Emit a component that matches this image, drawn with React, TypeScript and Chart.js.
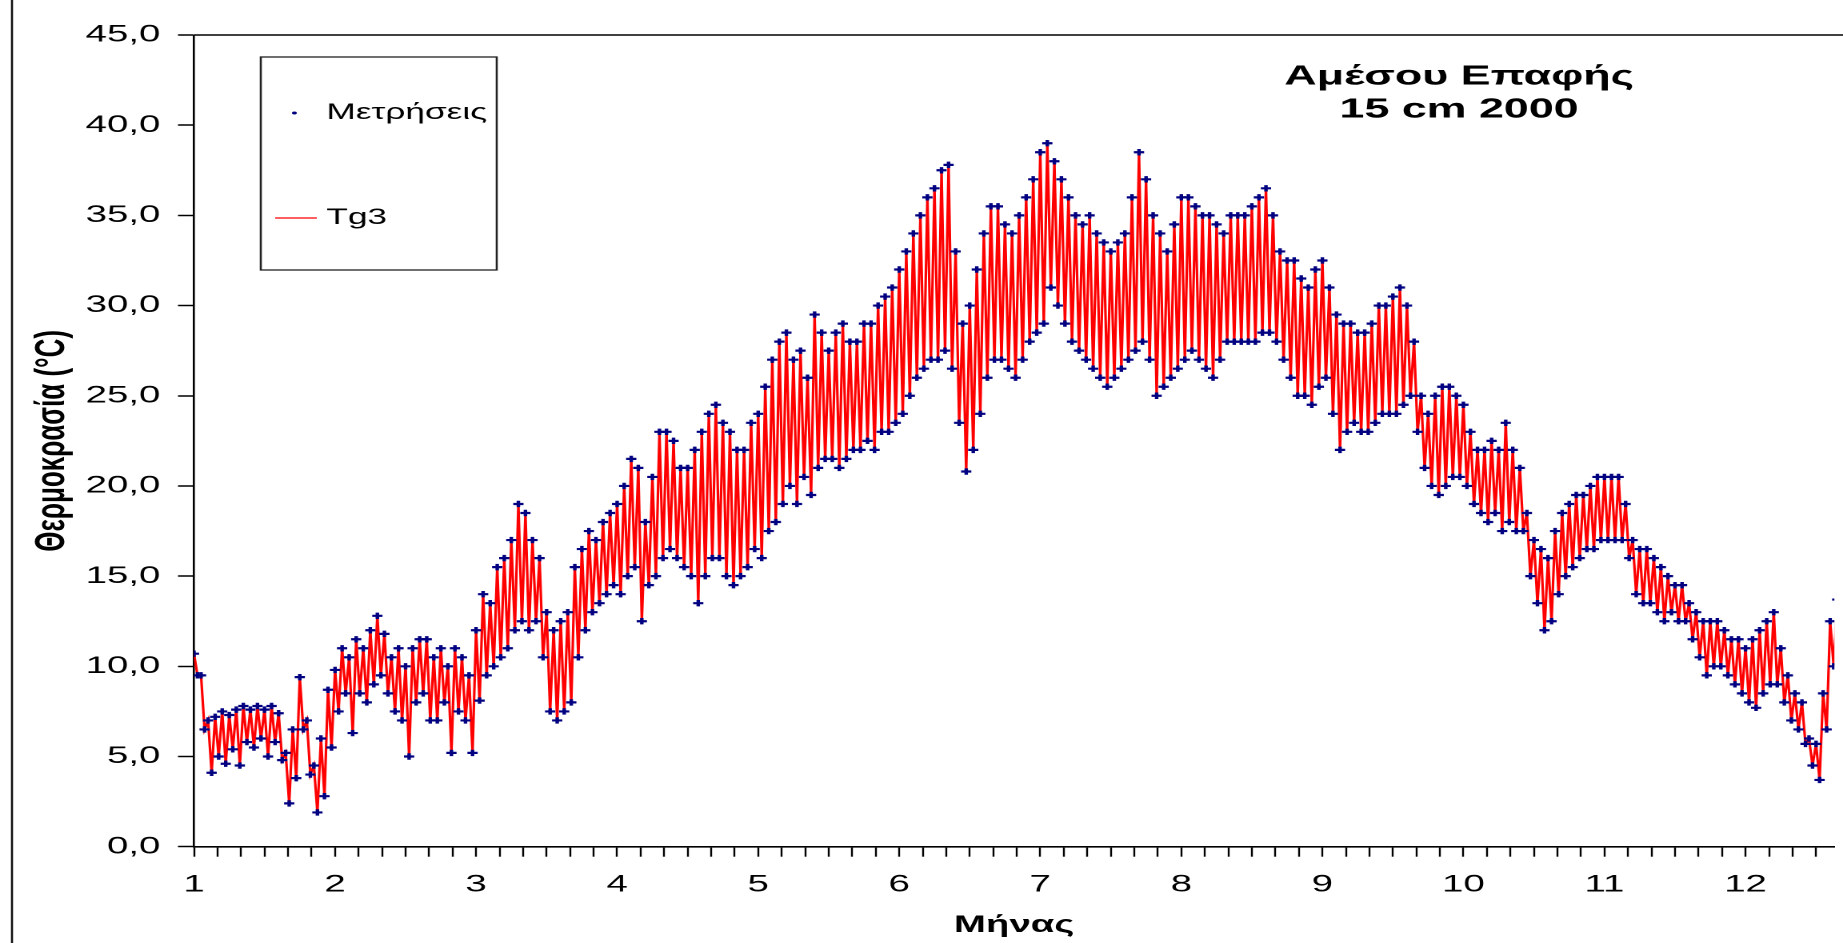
import React, { useEffect, useRef } from "react";
import { Chart, registerables } from "chart.js";

Chart.register(...registerables);

// ---------------- data ----------------
// Samples every 0.05 month starting at month 1.00: upper and lower envelope of the measurements
const SAMPLE_START = 1.0;
const SAMPLE_STEP = 0.05;

const tempMax = [
  // Jan
  10.7, 9.5, 7.0, 7.2, 7.5, 7.3, 7.6, 7.8, 7.6, 7.8, 7.6, 7.8, 7.4, 5.2, 6.5, 9.4, 7.0, 4.5, 6.0, 8.7,
  // Feb
  9.8, 11.0, 10.5, 11.5, 11.0, 12.0, 12.8, 11.8, 10.5, 11.0, 10.0, 11.0, 11.5, 11.5, 10.5, 11.0, 10.0, 11.0, 10.5, 9.5,
  // Mar
  12.0, 14.0, 13.5, 15.5, 16.0, 17.0, 19.0, 18.5, 17.0, 16.0, 13.0, 12.0, 12.5, 13.0, 15.5, 16.5, 17.5, 17.0, 18.0, 18.5,
  // Apr
  19.0, 20.0, 21.5, 21.0, 18.0, 20.5, 23.0, 23.0, 22.5, 21.0, 21.0, 22.0, 23.0, 24.0, 24.5, 23.5, 23.0, 22.0, 22.0, 23.5,
  // May
  24.0, 25.5, 27.0, 28.0, 28.5, 27.0, 27.5, 26.0, 29.5, 28.5, 27.5, 28.5, 29.0, 28.0, 28.0, 29.0, 29.0, 30.0, 30.5, 31.0,
  // Jun
  32.0, 33.0, 34.0, 35.0, 36.0, 36.5, 37.5, 37.8, 33.0, 29.0, 30.0, 32.0, 34.0, 35.5, 35.5, 34.5, 34.0, 35.0, 36.0, 37.0,
  // Jul
  38.5, 39.0, 38.0, 37.0, 36.0, 35.0, 34.5, 35.0, 34.0, 33.5, 33.0, 33.5, 34.0, 36.0, 38.5, 37.0, 35.0, 34.0, 33.0, 34.5,
  // Aug
  36.0, 36.0, 35.5, 35.0, 35.0, 34.5, 34.0, 35.0, 35.0, 35.0, 35.5, 36.0, 36.5, 35.0, 33.0, 32.5, 32.5, 31.5, 31.0, 32.0,
  // Sep
  32.5, 31.0, 29.5, 29.0, 29.0, 28.5, 28.5, 29.0, 30.0, 30.0, 30.5, 31.0, 30.0, 28.0, 25.0, 24.0, 25.0, 25.5, 25.5, 25.0,
  // Oct
  24.5, 23.0, 22.0, 22.0, 22.5, 22.0, 23.5, 22.0, 21.0, 18.5, 17.0, 16.5, 16.0, 17.5, 18.5, 19.0, 19.5, 19.5, 20.0, 20.5,
  // Nov
  20.5, 20.5, 20.5, 19.0, 17.0, 16.5, 16.5, 16.0, 15.5, 15.0, 14.5, 14.5, 13.5, 13.0, 12.5, 12.5, 12.5, 12.0, 11.5, 11.5,
  // Dec
  11.0, 11.5, 12.0, 12.5, 13.0, 11.0, 9.5, 8.5, 8.0, 6.0, 5.7, 8.5, 12.5, 13.7,
];

const tempMin = [
  // Jan
  9.5, 6.5, 4.1, 5.0, 4.6, 5.4, 4.5, 5.8, 5.5, 6.0, 5.0, 5.8, 4.8, 2.4, 3.8, 6.5, 4.0, 1.9, 2.8, 5.5,
  // Feb
  7.5, 8.5, 6.3, 8.5, 8.0, 9.0, 9.5, 8.5, 7.5, 7.0, 5.0, 8.0, 8.5, 7.0, 7.0, 8.0, 5.2, 7.5, 7.0, 5.2,
  // Mar
  8.1, 9.5, 10.0, 10.5, 11.0, 12.0, 12.5, 12.0, 12.5, 10.5, 7.5, 7.0, 7.5, 8.0, 10.5, 12.0, 13.0, 13.5, 14.0, 14.5,
  // Apr
  14.0, 15.0, 15.5, 12.5, 14.5, 15.0, 16.0, 16.5, 16.0, 15.5, 15.0, 13.5, 15.0, 16.0, 16.0, 15.0, 14.5, 15.0, 15.5, 16.5,
  // May
  16.0, 17.5, 18.0, 19.0, 20.0, 19.0, 20.5, 19.5, 21.0, 21.5, 21.5, 21.0, 21.5, 22.0, 22.0, 22.5, 22.0, 23.0, 23.0, 23.5,
  // Jun
  24.0, 25.0, 26.0, 26.5, 27.0, 27.0, 27.5, 26.5, 23.5, 20.8, 22.0, 24.0, 26.0, 27.0, 27.0, 26.5, 26.0, 27.0, 28.0, 28.5,
  // Jul
  29.0, 31.0, 30.0, 29.0, 28.0, 27.5, 27.0, 26.5, 26.0, 25.5, 26.0, 26.5, 27.0, 27.5, 28.0, 27.0, 25.0, 25.5, 26.0, 26.5,
  // Aug
  27.0, 27.5, 27.0, 26.5, 26.0, 27.0, 28.0, 28.0, 28.0, 28.0, 28.0, 28.5, 28.5, 28.0, 27.0, 26.0, 25.0, 25.0, 24.5, 25.5,
  // Sep
  26.0, 24.0, 22.0, 23.0, 23.5, 23.0, 23.0, 23.5, 24.0, 24.0, 24.0, 24.5, 25.0, 23.0, 21.0, 20.0, 19.5, 20.0, 20.5, 20.5,
  // Oct
  20.0, 19.0, 18.5, 18.0, 18.5, 17.5, 18.0, 17.5, 17.5, 15.0, 13.5, 12.0, 12.5, 14.0, 15.0, 15.5, 16.0, 16.5, 16.5, 17.0,
  // Nov
  17.0, 17.0, 17.0, 16.0, 14.0, 13.5, 13.5, 13.0, 12.5, 13.0, 12.5, 12.5, 11.5, 10.5, 9.5, 10.0, 10.0, 9.5, 9.0, 8.5,
  // Dec
  8.0, 7.7, 8.5, 9.0, 9.0, 8.0, 7.0, 6.5, 5.7, 4.5, 3.7, 6.5, 10.0, 12.0,
];

const monthTicks = [1, 2, 3, 4, 5, 6, 7, 8, 9, 10, 11, 12];
const MINOR_PER_MONTH = 6;
const X_MIN = 1;
const X_MAX = 12.63;
const yTicks = [0, 5, 10, 15, 20, 25, 30, 35, 40, 45];

const titleLines = ["Αμέσου Επαφής", "15 cm 2000"];
const seriesNames = ["Μετρήσεις", "Tg3"];
const xTitle = "Μήνας";
const yTitle = "Θερμοκρασία (°C)";

// ---------------- layout ----------------
const PAGE_W = 1843;
const PAGE_H = 943;
const STRETCH = 1.6; // the reference is horizontally stretched
const CANVAS_W = Math.round(PAGE_W / STRETCH);
const FONT = '"Liberation Sans", Arial, Helvetica, sans-serif';

const NAVY = "#000080";
const RED = "#ff0000";

function buildPoints() {
  const pts: { x: number; y: number }[] = [];
  tempMax.forEach((mx, i) => {
    const x = SAMPLE_START + i * SAMPLE_STEP;
    pts.push({ x, y: mx });
    pts.push({ x: x + SAMPLE_STEP / 2, y: tempMin[i] });
  });
  return pts;
}

const decorPlugin = {
  id: "decor",
  afterDraw(chart: any) {
    const { ctx, chartArea } = chart;
    ctx.save();
    // outer left frame line
    ctx.strokeStyle = "#111";
    ctx.lineWidth = 1.3;
    ctx.beginPath();
    ctx.moveTo(7.5, 0);
    ctx.lineTo(7.5, PAGE_H);
    ctx.stroke();
    // top border of plot
    ctx.lineWidth = 1.5;
    ctx.strokeStyle = "#000";
    ctx.beginPath();
    ctx.moveTo(chartArea.left, chartArea.top);
    ctx.lineTo(CANVAS_W, chartArea.top);
    ctx.stroke();

    // legend box
    const bx = 163, by = 57, bw = 147.5, bh = 213;
    ctx.fillStyle = "#fff";
    ctx.fillRect(bx, by, bw, bh);
    ctx.lineWidth = 1.3;
    ctx.strokeStyle = "#222";
    ctx.strokeRect(bx, by, bw, bh);
    // entry 1: marker
    ctx.fillStyle = NAVY;
    ctx.beginPath();
    ctx.arc(184, 113, 1.5, 0, Math.PI * 2);
    ctx.fill();
    ctx.fillStyle = "#000";
    ctx.font = `22px ${FONT}`;
    ctx.textBaseline = "middle";
    ctx.textAlign = "left";
    ctx.fillText(seriesNames[0], 204, 113);
    // entry 2: line
    ctx.strokeStyle = RED;
    ctx.lineWidth = 1.2;
    ctx.beginPath();
    ctx.moveTo(172, 218);
    ctx.lineTo(198, 218);
    ctx.stroke();
    ctx.fillText(seriesNames[1], 204, 218);

    // chart title inside plot
    ctx.font = `bold 28px ${FONT}`;
    ctx.textAlign = "center";
    ctx.fillText(titleLines[0], 912, 77);
    ctx.fillText(titleLines[1], 912, 110);
    ctx.restore();
  },
};

export default function App() {
  const ref = useRef<HTMLCanvasElement | null>(null);

  useEffect(() => {
    const canvas = ref.current;
    if (!canvas) return;
    const pts = buildPoints();
    const chart = new Chart(canvas, {
      type: "scatter",
      data: {
        datasets: [
          {
            label: seriesNames[0],
            data: pts,
            showLine: false,
            pointStyle: "cross",
            pointRadius: 3.2,
            pointBorderWidth: 2.2,
            borderColor: NAVY,
            backgroundColor: NAVY,
            pointHoverRadius: 0,
          },
          {
            label: seriesNames[1],
            data: pts,
            showLine: true,
            pointRadius: 0,
            borderColor: RED,
            borderWidth: 1.6,
            backgroundColor: RED,
          },
        ],
      },
      options: {
        responsive: false,
        maintainAspectRatio: false,
        animation: false,
        devicePixelRatio: 2,
        events: [],
        layout: { padding: { left: 0, right: 0, top: 35, bottom: 0 } },
        plugins: {
          legend: { display: false },
          tooltip: { enabled: false },
          title: { display: false },
        },
        scales: {
          x: {
            type: "linear",
            position: "bottom",
            min: X_MIN,
            max: X_MAX,
            afterBuildTicks: (scale: any) => {
              const ticks: { value: number }[] = [];
              const last = monthTicks[monthTicks.length - 1];
              for (let k = 0; k <= (last - X_MIN + 0.5) * MINOR_PER_MONTH; k++) {
                ticks.push({ value: X_MIN + k / MINOR_PER_MONTH });
              }
              scale.ticks = ticks;
            },
            afterFit: (scale: any) => {
              scale.height = PAGE_H - 846.7;
            },
            ticks: {
              autoSkip: false,
              maxRotation: 0,
              minRotation: 0,
              padding: 14,
              color: "#000",
              font: { family: FONT, size: 24 },
              callback: (v: any) => {
                const n = Number(v);
                const r = Math.round(n);
                return Math.abs(n - r) < 1e-6 && monthTicks.includes(r) ? String(r) : "";
              },
            },
            grid: {
              display: true,
              drawOnChartArea: false,
              drawTicks: true,
              tickLength: 10,
              tickColor: "#000",
              tickWidth: 1.2,
            },
            border: { display: true, color: "#000", width: 1.6 },
            title: {
              display: true,
              text: xTitle,
              color: "#000",
              font: { family: FONT, size: 24, weight: "bold" },
              padding: { top: 0, bottom: 3 },
            },
          },
          y: {
            type: "linear",
            min: 0,
            max: 45,
            afterBuildTicks: (scale: any) => {
              scale.ticks = yTicks.map((v) => ({ value: v }));
            },
            afterFit: (scale: any) => {
              scale.width = 194 / STRETCH;
            },
            ticks: {
              padding: 11,
              color: "#000",
              font: { family: FONT, size: 24 },
              callback: (v: any) => Number(v).toFixed(1).replace(".", ","),
            },
            grid: {
              display: true,
              drawOnChartArea: false,
              drawTicks: true,
              tickLength: 10,
              tickColor: "#000",
              tickWidth: 1.5,
            },
            border: { display: true, color: "#000", width: 1.3 },
            title: {
              display: true,
              text: yTitle,
              color: "#000",
              font: { family: FONT, size: 26, weight: "bold" },
              padding: { top: 17, bottom: 4 },
            },
          },
        },
      },
      plugins: [decorPlugin],
    } as any);
    return () => chart.destroy();
  }, []);

  return (
    <div
      style={{
        position: "fixed",
        left: 0,
        top: 0,
        width: PAGE_W,
        height: PAGE_H,
        overflow: "hidden",
        background: "#fff",
      }}
    >
      <div
        style={{
          width: CANVAS_W,
          height: PAGE_H,
          transform: `scaleX(${PAGE_W / CANVAS_W})`,
          transformOrigin: "0 0",
        }}
      >
        <canvas
          ref={ref}
          width={CANVAS_W}
          height={PAGE_H}
          style={{ width: CANVAS_W + "px", height: PAGE_H + "px", display: "block" }}
        />
      </div>
    </div>
  );
}
